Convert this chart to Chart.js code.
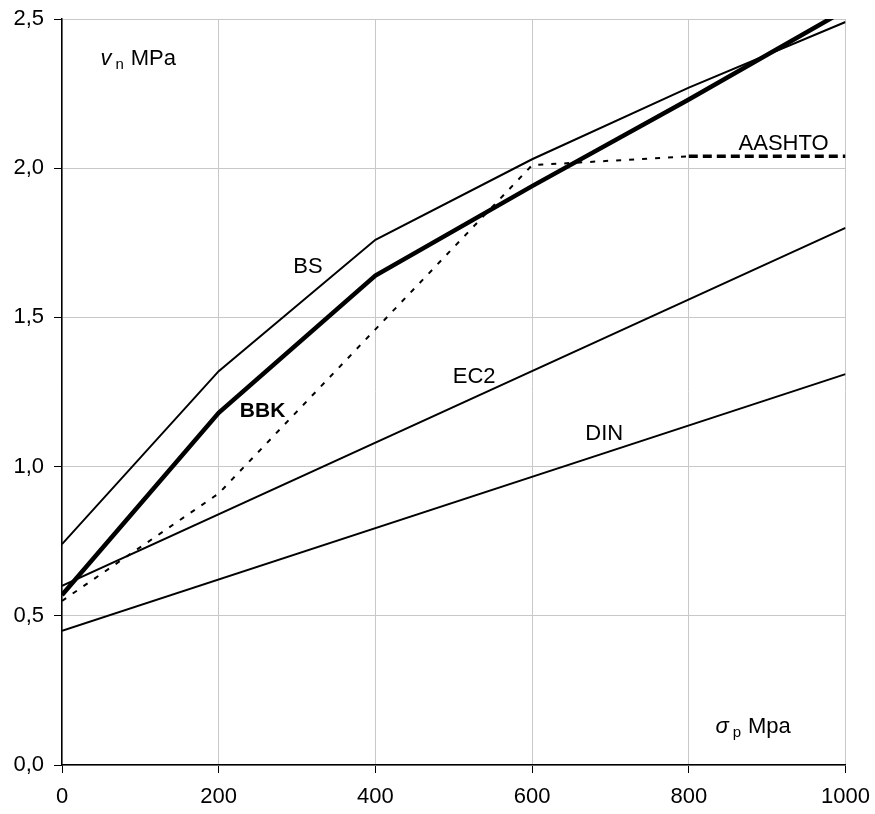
<!DOCTYPE html>
<html>
<head>
<meta charset="utf-8">
<script src="https://cdn.jsdelivr.net/npm/chart.js@4.4.1/dist/chart.umd.min.js"></script>
<style>
html,body{margin:0;padding:0;background:#fff;}
#wrap{width:875px;height:814px;position:relative;}
</style>
</head>
<body>
<div id="wrap"><canvas id="c" width="875" height="814"></canvas></div>
<script>
// Data
const sigmaP = [0, 200, 400, 600, 800, 1000];          // σp, MPa
const BS     = [0.74, 1.32, 1.76, 2.03, 2.27, 2.49];
const BBK    = [0.57, 1.18, 1.64, 1.94, 2.23, 2.53];
const AASHTO = [0.55, 0.91, 1.46, 2.01, 2.04, 2.04];
const lineX  = [0, 1000];                                // straight-line codes
const EC2    = [0.60, 1.80];
const DIN    = [0.45, 1.31];
const xTicks = [0, 200, 400, 600, 800, 1000];
const yTicks = [0.0, 0.5, 1.0, 1.5, 2.0, 2.5];

const seriesLabels = [
  {text: 'BS',     x: 314, y: 1.67, bold: false},
  {text: 'BBK',    x: 256, y: 1.185, bold: true},
  {text: 'EC2',    x: 526, y: 1.30, bold: false},
  {text: 'DIN',    x: 692, y: 1.11, bold: false},
  {text: 'AASHTO', x: 921, y: 2.08, bold: false}
];

const FONT = 'Arial, "Liberation Sans", sans-serif';
const FS = 22;
const pts = (xs, ys) => xs.map((x, i) => ({x: x, y: ys[i]}));

const textPlugin = {
  id: 'texts',
  afterDatasetsDraw(chart) {
    const ctx = chart.ctx, xs = chart.scales.x, ys = chart.scales.y;
    ctx.save();
    ctx.fillStyle = '#000';
    ctx.textAlign = 'center';
    ctx.textBaseline = 'middle';
    seriesLabels.forEach(l => {
      ctx.font = (l.bold ? 'bold ' : '') + (l.bold ? FS - 1 : FS) + 'px ' + FONT;
      ctx.fillText(l.text, xs.getPixelForValue(l.x), ys.getPixelForValue(l.y));
    });
    // axis titles inside plot
    ctx.textAlign = 'left';
    ctx.textBaseline = 'alphabetic';
    function title(sym, sub, rest, xv, yv) {
      let px = xs.getPixelForValue(xv), py = ys.getPixelForValue(yv);
      ctx.font = 'italic ' + FS + 'px ' + FONT;
      ctx.fillText(sym, px, py);
      px += ctx.measureText(sym).width + 4;
      ctx.font = '15px ' + FONT;
      ctx.fillText(sub, px, py + 4);
      px += ctx.measureText(sub).width + 7;
      ctx.font = FS + 'px ' + FONT;
      ctx.fillText(rest, px, py);
    }
    title('v', 'n', 'MPa', 49, 2.346);
    title('\u03C3', 'p', 'Mpa', 834, 0.107);
    ctx.restore();
  }
};

new Chart(document.getElementById('c'), {
  type: 'scatter',
  data: {
    datasets: [
      {label: 'BS', data: pts(sigmaP, BS), showLine: true, borderColor: '#000', borderWidth: 2, pointRadius: 0, tension: 0},
      {label: 'BBK', data: pts(sigmaP, BBK), showLine: true, borderColor: '#000', borderWidth: 4.5, pointRadius: 0, tension: 0},
      {label: 'AASHTO', data: pts(sigmaP, AASHTO), showLine: true, borderColor: '#000', borderWidth: 2, borderDash: [5, 8], pointRadius: 0, tension: 0,
        segment: {
          borderWidth: c => c.p0.parsed.x >= 800 ? 3.5 : 2,
          borderDash: c => c.p0.parsed.x >= 800 ? [9, 5] : [5, 8]
        }},
      {label: 'EC2', data: pts(lineX, EC2), showLine: true, borderColor: '#000', borderWidth: 2, pointRadius: 0},
      {label: 'DIN', data: pts(lineX, DIN), showLine: true, borderColor: '#000', borderWidth: 2, pointRadius: 0}
    ]
  },
  options: {
    responsive: false,
    animation: false,
    layout: {padding: {left: 0, right: 29.5, top: 19, bottom: 0}},
    plugins: {legend: {display: false}, tooltip: {enabled: false}},
    scales: {
      x: {
        type: 'linear', min: 0, max: 1000,
        afterBuildTicks: s => { s.ticks = xTicks.map(v => ({value: v})); },
        afterFit: s => { s.height = 49; s.paddingLeft = 0; s.paddingRight = 0; },
        grid: {color: '#c8c8c8', lineWidth: 1, tickColor: '#000', tickLength: 8},
        border: {color: '#000', width: 1.5},
        ticks: {color: '#000', font: {family: FONT, size: FS}, padding: 11, maxRotation: 0,
          callback: v => String(v)}
      },
      y: {
        type: 'linear', min: 0, max: 2.5,
        afterBuildTicks: s => { s.ticks = yTicks.map(v => ({value: v})); },
        afterFit: s => { s.width = 62; s.paddingTop = 0; s.paddingBottom = 0; },
        grid: {color: '#c8c8c8', lineWidth: 1, tickColor: '#000', tickLength: 8},
        border: {color: '#000', width: 1.5},
        ticks: {color: '#000', font: {family: FONT, size: FS}, padding: 10,
          callback: v => v.toFixed(1).replace('.', ',')}
      }
    }
  },
  plugins: [textPlugin]
});
</script>
</body>
</html>
